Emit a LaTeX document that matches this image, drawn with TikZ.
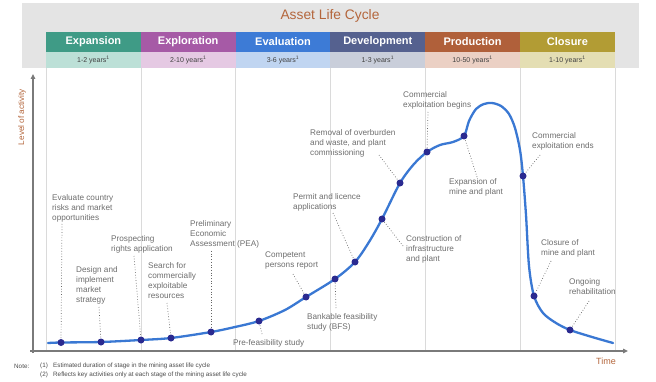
\documentclass[tikz,border=0pt]{standalone}
\usepackage{fontspec}
\setmainfont{Liberation Sans}
\usetikzlibrary{arrows.meta}
\definecolor{hdrbg}{HTML}{E4E4E4}
\definecolor{titlec}{HTML}{B4663C}
\definecolor{expC}{HTML}{3F9B86}\definecolor{expL}{HTML}{BCE0D7}
\definecolor{explC}{HTML}{A65AA6}\definecolor{explL}{HTML}{E5C9E3}
\definecolor{evalC}{HTML}{3D7BD6}\definecolor{evalL}{HTML}{C0D5F1}
\definecolor{devC}{HTML}{55618F}\definecolor{devL}{HTML}{C9CEDA}
\definecolor{prodC}{HTML}{B0603A}\definecolor{prodL}{HTML}{EBD0C4}
\definecolor{closC}{HTML}{B29C34}\definecolor{closL}{HTML}{E4DEB3}
\definecolor{curvec}{HTML}{3A78D3}
\definecolor{dotc}{HTML}{2A2A90}
\definecolor{lblc}{HTML}{6E6E6E}
\definecolor{gridc}{HTML}{DADADA}
\definecolor{axisc}{HTML}{7A7A7A}
\tikzset{
  stagehead/.style={minimum width=94.8pt, minimum height=20pt, inner sep=0pt, text=white, font=\fontsize{11}{12}\selectfont\bfseries},
  stagesub/.style={minimum width=94.8pt, minimum height=16pt, inner sep=0pt, text=black!75, font=\fontsize{7}{8}\selectfont},
  dotnode/.style={circle, fill=dotc, inner sep=0pt, minimum size=7pt},
  lbl/.style={anchor=north west, align=left, inner sep=0pt, text=lblc, font=\fontsize{8.2}{10}\selectfont},
  leader/.style={draw=black!60, line width=0.7pt, dotted},
  gridline/.style={draw=gridc, line width=0.6pt},
  axisline/.style={draw=axisc, line width=1.3pt, -{Triangle[length=5pt,width=4.5pt]}},
  notetxt/.style={anchor=west, inner sep=0pt, text=black!70, font=\fontsize{6.3}{7}\selectfont}
}
\begin{document}
\begin{tikzpicture}[x=1pt,y=-1pt]
\useasboundingbox[fill=white] (0,0) rectangle (656,382);
% header
\fill[hdrbg] (22,3) rectangle (639,68);
\node[text=titlec, font=\fontsize{13.8}{15}\selectfont, inner sep=0pt] (title) at (330,16) {Asset Life Cycle};
\node[stagehead, fill=expC] (h1) at (93.4,42) {Expansion};
\node[stagehead, fill=explC] (h2) at (188.2,42) {Exploration};
\node[stagehead, fill=evalC] (h3) at (283,42) {Evaluation};
\node[stagehead, fill=devC] (h4) at (377.8,42) {Development};
\node[stagehead, fill=prodC] (h5) at (472.6,42) {Production};
\node[stagehead, fill=closC] (h6) at (567.4,42) {Closure};
\node[stagesub, fill=expL] (s1) at (93.4,60) {1-2 years\textsuperscript{1}};
\node[stagesub, fill=explL] (s2) at (188.2,60) {2-10 years\textsuperscript{1}};
\node[stagesub, fill=evalL] (s3) at (283,60) {3-6 years\textsuperscript{1}};
\node[stagesub, fill=devL] (s4) at (377.8,60) {1-3 years\textsuperscript{1}};
\node[stagesub, fill=prodL] (s5) at (472.6,60) {10-50 years\textsuperscript{1}};
\node[stagesub, fill=closL] (s6) at (567.4,60) {1-10 years\textsuperscript{1}};
% grid
\foreach \gx in {46,140.8,235.6,330.4,425.2,520,614.8}
  \draw[gridline] (\gx,68) -- (\gx,350);
% axes
\coordinate (yb) at (33,353);
\coordinate (yt) at (33,74);
\coordinate (xl) at (30,351);
\coordinate (xr) at (628,351);
\draw[axisline] (yb) -- (yt);
\draw[axisline] (xl) -- (xr);
\node[rotate=90, text=titlec, font=\fontsize{8.2}{10}\selectfont, inner sep=0pt] (ylab) at (22,117) {Level of activity};
\node[text=titlec, font=\fontsize{9}{10}\selectfont, inner sep=0pt] (xlab) at (606,361) {Time};
% curve
\draw[curvec, line width=2.3pt, line cap=round] plot[smooth, tension=0.5] coordinates {
 (48,343) (61,342.5) (101,342) (141,340) (171,338) (211,332) (235,327) (259,321) (285,310) (306,297)
 (335,279) (355,262) (369,242) (382,219) (400,183) (414,164) (427,152) (440,145) (453,142) (464,136)
 (469,121) (476,109) (484,104) (492,103) (501,106) (509,114) (515,128) (520,150) (523,176)
 (526,215) (529,266) (534,296) (543,313) (556,323) (570,330) (592,337) (613,343)};
% dots
\node[dotnode] (d1) at (61,342.5) {};
\node[dotnode] (d2) at (101,342) {};
\node[dotnode] (d3) at (141,340) {};
\node[dotnode] (d4) at (171,338) {};
\node[dotnode] (d5) at (211,332) {};
\node[dotnode] (d6) at (259,321) {};
\node[dotnode] (d7) at (306,297) {};
\node[dotnode] (d8) at (335,279) {};
\node[dotnode] (d9) at (355,262) {};
\node[dotnode] (d10) at (382,219) {};
\node[dotnode] (d11) at (400,183) {};
\node[dotnode] (d12) at (427,152) {};
\node[dotnode] (d13) at (464,136) {};
\node[dotnode] (d14) at (523,176) {};
\node[dotnode] (d15) at (534,296) {};
\node[dotnode] (d16) at (570,330) {};
% labels
\node[lbl] (t1) at (52,194) {Evaluate country\\risks and market\\opportunities};
\node[lbl] (t2) at (76,266) {Design and\\implement\\market\\strategy};
\node[lbl] (t3) at (111,235) {Prospecting\\rights application};
\node[lbl] (t4) at (148,262) {Search for\\commercially\\exploitable\\resources};
\node[lbl] (t5) at (190,220) {Preliminary\\Economic\\Assessment (PEA)};
\node[lbl] (t6) at (233,339) {Pre-feasibility study};
\node[lbl] (t7) at (265,252) {Competent\\persons report};
\node[lbl] (t8) at (307,313) {Bankable feasibility\\study (BFS)};
\node[lbl] (t9) at (293,193) {Permit and licence\\applications};
\node[lbl] (t10) at (406,235) {Construction of\\infrastructure\\and plant};
\node[lbl] (t11) at (310,129) {Removal of overburden\\and waste, and plant\\commissioning};
\node[lbl] (t12) at (403,91) {Commercial\\exploitation begins};
\node[lbl] (t13) at (449,178) {Expansion of\\mine and plant};
\node[lbl] (t14) at (532,132) {Commercial\\exploitation ends};
\node[lbl] (t15) at (541,239) {Closure of\\mine and plant};
\node[lbl] (t16) at (569,278) {Ongoing\\rehabilitation};
% leaders
\coordinate (c1) at (62,224);
\coordinate (c2) at (99,307);
\coordinate (c3) at (134,256);
\coordinate (c4) at (167,303);
\coordinate (c5) at (211,251);
\coordinate (c6) at (262,334);
\coordinate (c7) at (293,274);
\coordinate (c8) at (336,308);
\coordinate (c9) at (333,213);
\coordinate (c10) at (403,246);
\coordinate (c11) at (379,155);
\coordinate (c12) at (428,112);
\coordinate (c13) at (477,177);
\coordinate (c14) at (540,155);
\coordinate (c15) at (551,261);
\coordinate (c16) at (589,301);
\foreach \i in {1,...,16} \draw[leader] (c\i) -- (d\i);
% notes
\node[notetxt] (n0) at (14,366) {Note:};
\node[notetxt] (n1a) at (40,366) {(1)};
\node[notetxt] (n1) at (53,366) {Estimated duration of stage in the mining asset life cycle};
\node[notetxt] (n2a) at (40,375) {(2)};
\node[notetxt] (n2) at (53,375) {Reflects key activities only at each stage of the mining asset life cycle};
\end{tikzpicture}
\end{document}
